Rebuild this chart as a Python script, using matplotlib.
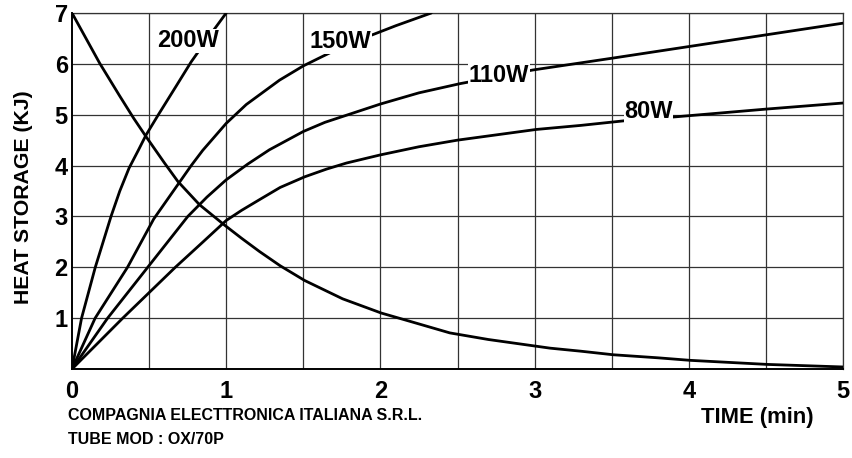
import matplotlib
matplotlib.use('Agg')
import matplotlib.pyplot as plt
from matplotlib import font_manager

# values (time in min, heat storage in kJ)
cool_t = [0, 0.18, 0.307, 0.40, 0.48, 0.60, 0.686, 0.827, 0.989, 1.10, 1.216, 1.35, 1.509, 1.755,
          2.006, 2.2, 2.45, 2.7, 3.10, 3.3, 3.51, 3.8, 4.01, 4.51, 5.0]
cool_q = [7.0, 6.01, 5.38, 4.93, 4.57, 4.05, 3.69, 3.23, 2.83, 2.57, 2.31, 2.03, 1.74, 1.38,
          1.10, 0.93, 0.71, 0.58, 0.41, 0.35, 0.28, 0.22, 0.17, 0.09, 0.04]

w200_t = [0, 0.062, 0.151, 0.253, 0.31, 0.37, 0.43, 0.48, 0.56, 0.675, 0.773, 0.913, 1.0]
w200_q = [0, 1.0, 2.0, 3.0, 3.5, 3.95, 4.3, 4.6, 5.0, 5.56, 6.04, 6.64, 7.0]

w150_t = [0, 0.15, 0.36, 0.53, 0.773, 0.848, 1.0, 1.13, 1.346, 1.50, 1.627, 1.75, 1.93, 2.1, 2.33]
w150_q = [0, 1.0, 2.0, 2.95, 4.0, 4.3, 4.83, 5.2, 5.68, 5.96, 6.15, 6.33, 6.55, 6.75, 7.0]

w110_t = [0, 0.231, 0.491, 0.751, 0.875, 1.0, 1.14, 1.28, 1.50, 1.64, 1.79, 2.0, 2.25, 2.515, 2.99, 3.5, 4.0, 4.5, 5.0]
w110_q = [0, 1.0, 2.0, 3.0, 3.38, 3.72, 4.03, 4.31, 4.67, 4.85, 5.0, 5.21, 5.43, 5.61, 5.88, 6.11, 6.34, 6.57, 6.80]

w80_t = [0, 0.329, 0.67, 0.85, 1.0, 1.1, 1.216, 1.35, 1.51, 1.65, 1.78, 2.0, 2.25, 2.5, 3.01, 3.3, 3.58, 3.92, 4.5, 5.0]
w80_q = [0, 1.0, 2.0, 2.5, 2.92, 3.12, 3.33, 3.57, 3.78, 3.93, 4.05, 4.21, 4.37, 4.50, 4.71, 4.79, 4.88, 4.96, 5.11, 5.23]

curve_labels = ['200W', '150W', '110W', '80W']
label_pos = [(0.75, 6.45), (1.74, 6.43), (2.77, 5.78), (3.74, 5.06)]

x_ticks = [0, 1, 2, 3, 4, 5]
y_ticks = [1, 2, 3, 4, 5, 6, 7]


def pick_font(names):
    for n in names:
        try:
            font_manager.findfont(n, fallback_to_default=False)
            return n
        except Exception:
            continue
    return 'DejaVu Sans'


fam = pick_font(['Liberation Sans Narrow', 'Liberation Sans'])
plt.rcParams['font.family'] = [fam, 'DejaVu Sans']

fig = plt.figure(figsize=(8.53, 4.58), dpi=100)
ax = fig.add_axes([72 / 853, 1 - 369 / 458, 771 / 853, 356 / 458])

# grid
for xv in [i * 0.5 for i in range(1, 11)]:
    ax.axvline(xv, color='#333333', lw=0.9, zorder=1)
for yv in y_ticks:
    ax.axhline(yv, color='#333333', lw=0.9, zorder=1)

ax.plot(cool_t, cool_q, color='black', lw=2.0, zorder=3, solid_capstyle='round', solid_joinstyle='round')
for t, q in [(w200_t, w200_q), (w150_t, w150_q), (w110_t, w110_q), (w80_t, w80_q)]:
    ax.plot(t, q, color='black', lw=2.0, zorder=3, solid_capstyle='round', solid_joinstyle='round')

for lab, (lx, ly) in zip(curve_labels, label_pos):
    ax.text(lx, ly, lab, ha='center', va='center', fontsize=17, fontweight='bold',
            zorder=4, bbox=dict(facecolor='white', edgecolor='none', pad=0.3))

ax.set_xlim(0, 5)
ax.set_ylim(0, 7)
ax.set_xticks(x_ticks)
ax.set_yticks(y_ticks)
ax.set_xticklabels([str(v) for v in x_ticks])
ax.set_yticklabels([str(v) for v in y_ticks])
ax.tick_params(axis='both', length=0, labelsize=17)
ax.tick_params(axis='x', pad=8)
ax.tick_params(axis='y', pad=3)
for lab in ax.get_xticklabels() + ax.get_yticklabels():
    lab.set_fontweight('bold')

for s in ['left', 'bottom']:
    ax.spines[s].set_linewidth(1.4)
for s in ['top', 'right']:
    ax.spines[s].set_linewidth(0.9)
    ax.spines[s].set_color('#333333')

fig.text(24 / 853, 1 - 197 / 458, 'HEAT STORAGE (KJ)', rotation=90, ha='center', va='center',
         fontsize=15.3, fontweight='bold')
fig.text(757 / 853, 1 - 417 / 458, 'TIME (min)', ha='center', va='center',
         fontsize=15.8, fontweight='bold')
fig.text(68 / 853, 1 - 415.5 / 458, 'COMPAGNIA ELECTTRONICA ITALIANA S.R.L.', ha='left', va='center',
         fontsize=11.5, fontweight='bold')
fig.text(68 / 853, 1 - 439.5 / 458, 'TUBE MOD : OX/70P', ha='left', va='center',
         fontsize=11.5, fontweight='bold')

fig.savefig('out.png', dpi=100)
